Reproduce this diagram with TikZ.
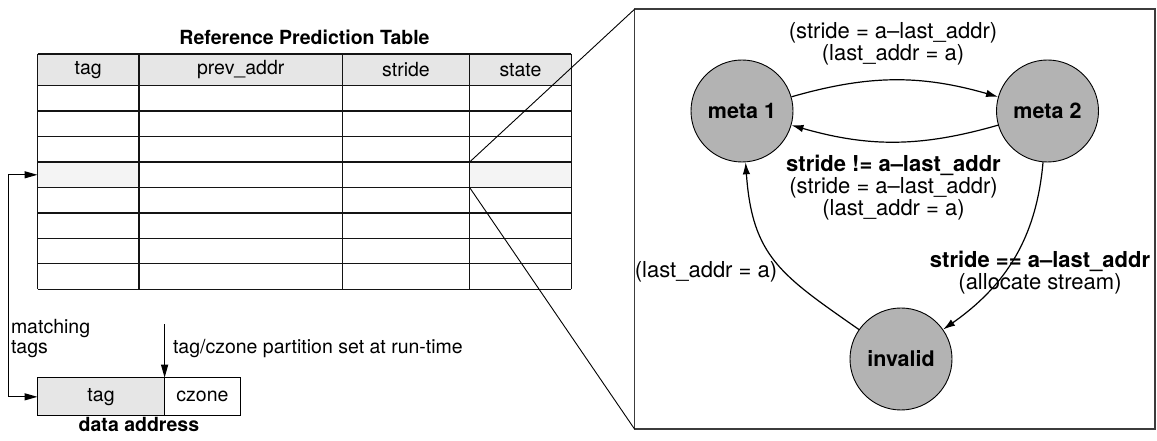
\documentclass[tikz,border=0pt]{standalone}
\usepackage{fontspec}
\setmainfont{TeX Gyre Heros}
\usetikzlibrary{positioning,arrows.meta}
\definecolor{ink}{HTML}{000000}
\definecolor{rule}{HTML}{141414}
\definecolor{headfill}{HTML}{E6E6E6}
\definecolor{hitfill}{HTML}{F4F4F4}
\definecolor{statefill}{HTML}{B3B3B3}
\definecolor{frame}{HTML}{3C3C3C}
\tikzset{
  cellrule/.style  = {draw=rule, line width=1.3pt},
  zoomline/.style  = {draw=ink,  line width=0.9pt},
  framebox/.style  = {draw=frame, line width=1.8pt, inner sep=0pt, outer sep=0pt},
  field/.style     = {draw=ink, line width=1pt, inner sep=0pt, outer sep=0pt, minimum height=38.3pt,
                      font=\fontsize{19.5}{22}\selectfont},
  hd/.style        = {font=\fontsize{19.5}{22}\selectfont, inner sep=0pt, outer sep=0pt},
  hdb/.style       = {font=\fontsize{19.5}{22}\selectfont\bfseries, inner sep=0pt, outer sep=0pt},
  note/.style      = {font=\fontsize{19.5}{20}\selectfont, align=left, inner sep=0pt, outer sep=0pt},
  statenode/.style = {circle, draw=ink, line width=0.9pt, fill=statefill, minimum size=102pt,
                      inner sep=0pt, font=\fontsize{21.5}{24}\selectfont\bfseries},
  edgelab/.style   = {font=\fontsize{22}{22}\selectfont, align=center, inner sep=0pt, outer sep=0pt},
  trans/.style     = {-{Latex[length=12pt,width=7.5pt]}, draw=ink, line width=1.2pt},
  link/.style      = {{Triangle[length=13pt,width=7pt]}-{Triangle[length=13pt,width=7pt]}, draw=ink, line width=1.2pt},
  cutarrow/.style  = {-{Triangle[length=13pt,width=7pt]}, draw=ink, line width=1.2pt},
}
\begin{document}
\begin{tikzpicture}[x=1pt,y=1pt]
\path[use as bounding box] (0,0) rectangle (1157,441);

% ---------- reference prediction table ----------------------------------
\node[hdb] (title) at (304.5,404) {Reference Prediction Table};

\fill[headfill] (37.5,355.3) rectangle (571.4,387);
% the row that matched
\fill[hitfill] (37.5,253.5)  rectangle (138.9,278.95);
\fill[hitfill] (469.6,253.5) rectangle (571.4,278.95);

\draw[cellrule] (37.5,387) -- (571.4,387);
\foreach \k in {0,...,8}
  \draw[cellrule] (37.5,{355.3-25.45*\k}) -- (571.4,{355.3-25.45*\k});
\foreach \x in {37.5,138.9,342.5,469.6,571.4}
  \draw[cellrule] (\x,387) -- (\x,151.7);

\node[hd] (hdtag)    at (88.2,371.2)  {tag};
\node[hd] (hdprev)   at (240.7,371.2) {prev\_addr};
\node[hd] (hdstride) at (406,371.2)   {stride};
\node[hd] (hdstate)  at (520.5,371.2) {state};

\coordinate (hitrow) at (37.5,266.2);
\coordinate (stnw)   at (469.6,278.95);
\coordinate (stsw)   at (469.6,253.5);

% ---------- data address ------------------------------------------------
\node[field, fill=headfill, minimum width=127.1pt] (atag) at (101.05,44.15) {tag};
\node[field, minimum width=75.7pt, right=0pt of atag] (czone) {czone};
\node[hdb] (addrlab) at (138.9,16.5) {data address};

\draw[link] (atag.west) -- ++(-29.1,0) |- (hitrow);
\node[note, anchor=west] (matchlab) at (11,102) {matching\\tags};

\coordinate (cut) at (164.6,116.7);
\draw[cutarrow] (cut) -- (atag.north east);
\node[hd, anchor=west] (cutlab) at (173,92) {tag/czone partition set at run-time};

% ---------- state machine of the state field ----------------------------
\node[framebox, minimum width=520.2pt, minimum height=419.7pt] (zoombox) at (894.6,221.85) {};
\draw[zoomline] (stnw) -- (zoombox.north west);
\draw[zoomline] (stsw) -- (zoombox.south west);

\node[statenode] (meta1)   at (742,330)   {meta 1};
\node[statenode] (meta2)   at (1047.5,330) {meta 2};
\node[statenode] (invalid) at (901,82)    {invalid};

\draw[trans] (meta1) to[bend left=16] (meta2);
\draw[trans] (meta2) to[bend left=16] (meta1);
\draw[trans] (meta2) to[out=-95,in=35] (invalid);
\draw[trans] (invalid) to[out=145,in=-86,looseness=1.2] (meta1);

\node[edgelab] (lab12) at (893,397.2)
  {(stride = a–last\_addr)\\(last\_addr = a)};
\node[edgelab] (lab21) at (893.5,253.5)
  {{\bfseries stride != a–last\_addr}\\(stride = a–last\_addr)\\(last\_addr = a)};
\node[edgelab] (lab2i) at (1040,168.5)
  {{\bfseries stride == a–last\_addr}\\(allocate stream)};
\node[edgelab] (labi1) at (706,169.3) {(last\_addr = a)};

\end{tikzpicture}
\end{document}
